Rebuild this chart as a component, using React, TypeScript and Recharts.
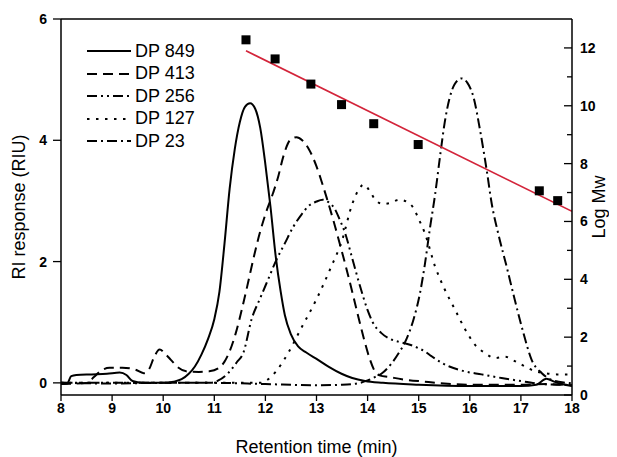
import { ComposedChart, Line, Scatter, XAxis, YAxis, Legend, ReferenceLine } from 'recharts';

// retention time (min) vs RI response (RIU)
const dp849: [number, number][] = [
  [8.0, -0.02], [8.12, -0.01], [8.2, 0.11], [8.3, 0.13], [8.6, 0.14], [8.9, 0.15], [9.15, 0.17],
  [9.28, 0.13], [9.4, 0.03], [9.6, 0.0], [10.0, 0.0], [10.2, 0.02], [10.36, 0.06], [10.5, 0.15],
  [10.62, 0.27], [10.75, 0.47], [10.88, 0.73], [11.0, 1.05], [11.1, 1.5], [11.2, 2.3], [11.3, 3.2],
  [11.4, 3.85], [11.5, 4.3], [11.6, 4.55], [11.7, 4.61], [11.8, 4.52], [11.9, 4.2], [12.0, 3.6],
  [12.1, 2.9], [12.2, 2.1], [12.3, 1.5], [12.38, 1.12], [12.5, 0.8], [12.64, 0.6], [12.8, 0.5],
  [13.03, 0.38], [13.25, 0.26], [13.49, 0.15], [13.7, 0.08], [13.95, 0.03], [14.3, 0.0],
  [15.0, -0.03], [16.0, -0.05], [17.0, -0.05], [17.3, -0.03], [17.5, 0.07], [17.65, 0.02],
  [17.8, -0.02], [18.0, -0.05],
];

const dp413: [number, number][] = [
  [8.0, -0.02], [8.5, 0.0], [8.65, 0.1], [8.75, 0.18], [8.95, 0.25], [9.2, 0.25], [9.45, 0.22],
  [9.62, 0.16], [9.72, 0.22], [9.82, 0.42], [9.93, 0.55], [10.05, 0.47], [10.15, 0.38], [10.3, 0.25],
  [10.45, 0.19], [10.7, 0.18], [10.9, 0.19], [11.08, 0.24], [11.2, 0.35], [11.3, 0.52], [11.42, 0.82],
  [11.55, 1.25], [11.66, 1.65], [11.78, 2.1], [11.89, 2.47], [12.0, 2.78], [12.15, 3.13],
  [12.25, 3.4], [12.35, 3.73], [12.48, 4.0], [12.61, 4.05], [12.72, 4.0], [12.84, 3.87], [13.0, 3.57],
  [13.13, 3.24], [13.2, 3.05], [13.35, 2.62], [13.47, 2.25], [13.58, 1.9], [13.7, 1.5],
  [13.81, 1.12], [13.93, 0.72], [14.04, 0.4], [14.15, 0.18], [14.25, 0.12], [14.4, 0.1],
  [14.67, 0.06], [15.12, 0.02], [15.5, -0.01], [16.0, -0.03], [17.0, -0.03], [17.5, -0.02],
  [18.0, -0.04],
];

const dp256: [number, number][] = [
  [8.0, 0.0], [9.0, 0.0], [10.0, 0.0], [10.9, 0.0], [11.08, 0.04], [11.27, 0.16], [11.44, 0.34],
  [11.57, 0.5], [11.73, 1.05], [11.9, 1.4], [12.06, 1.72], [12.2, 2.0], [12.38, 2.3], [12.55, 2.58],
  [12.71, 2.78], [12.85, 2.92], [13.0, 2.99], [13.12, 3.02], [13.25, 2.97], [13.35, 2.88],
  [13.45, 2.7], [13.56, 2.47], [13.7, 2.05], [13.85, 1.6], [14.0, 1.2], [14.1, 1.0], [14.27, 0.82],
  [14.45, 0.72], [14.6, 0.68], [14.86, 0.62], [15.0, 0.57], [15.12, 0.52], [15.25, 0.44],
  [15.45, 0.33], [15.6, 0.27], [15.9, 0.19], [16.23, 0.14], [16.62, 0.08], [17.08, 0.02],
  [17.4, -0.02], [17.7, -0.03], [18.0, -0.04],
];

const dp127: [number, number][] = [
  [8.0, 0.0], [9.0, 0.0], [10.0, 0.0], [11.0, 0.0], [11.9, 0.0], [12.0, 0.03], [12.2, 0.18],
  [12.45, 0.5], [12.7, 0.9], [13.0, 1.38], [13.28, 1.9], [13.5, 2.35], [13.7, 2.95], [13.82, 3.18],
  [13.93, 3.27], [14.05, 3.15], [14.15, 3.02], [14.3, 2.95], [14.45, 2.97], [14.62, 3.02],
  [14.78, 2.98], [14.9, 2.88], [15.0, 2.7], [15.12, 2.47], [15.32, 1.92], [15.51, 1.54],
  [15.71, 1.21], [15.91, 0.88], [16.1, 0.63], [16.3, 0.49], [16.49, 0.41], [16.69, 0.43],
  [16.88, 0.36], [17.08, 0.27], [17.25, 0.2], [17.47, 0.16], [17.7, 0.14], [18.0, 0.14],
];

const dp23: [number, number][] = [
  [8.0, 0.0], [9.0, -0.01], [10.0, 0.0], [11.0, 0.0], [12.0, -0.02], [13.0, -0.04], [13.5, -0.03],
  [13.85, 0.0], [14.0, 0.04], [14.15, 0.1], [14.27, 0.15], [14.45, 0.3], [14.6, 0.48], [14.76, 0.72],
  [14.9, 1.05], [15.03, 1.5], [15.12, 1.95], [15.22, 2.55], [15.32, 3.1], [15.42, 3.75],
  [15.51, 4.3], [15.6, 4.68], [15.7, 4.92], [15.84, 5.02], [15.95, 4.95], [16.07, 4.72],
  [16.2, 4.17], [16.33, 3.51], [16.43, 2.95], [16.56, 2.45], [16.72, 1.92], [16.88, 1.37],
  [17.05, 0.82], [17.21, 0.38], [17.41, 0.16], [17.55, 0.07], [17.67, 0.03], [17.9, 0.0],
  [18.0, -0.01],
];

// calibration: retention time vs log Mw, and the fitted line
const calibTime = [11.62, 12.19, 12.89, 13.49, 14.12, 14.99, 17.36, 17.72];
const calibLogMw = [12.28, 11.62, 10.75, 10.04, 9.38, 8.66, 7.06, 6.72];
const fitTime = [11.62, 18.0];
const fitLogMw = [11.9, 6.35];

const timeTicks = [8, 9, 10, 11, 12, 13, 14, 15, 16, 17, 18];
const riTicks = [0, 2, 4, 6];
const mwTicks = [0, 1, 2, 3, 4, 5, 6, 7, 8, 9, 10, 11, 12];

const series = [
  { name: 'DP 849', pts: dp849, dash: undefined },
  { name: 'DP 413', pts: dp413, dash: '10 6' },
  { name: 'DP 256', pts: dp256, dash: '10 4 2 4 2 4' },
  { name: 'DP 127', pts: dp127, dash: '2.5 6.5' },
  { name: 'DP 23', pts: dp23, dash: '10 4 2 4' },
];

const calibRows = calibTime.map((t, i) => ({ t, mw: calibLogMw[i] }));
const fitRows = fitTime.map((t, i) => ({ t, mw: fitLogMw[i] }));

const FONT = '"Liberation Sans", Arial, sans-serif';

const RightTick = (props: any) => {
  const { x, y, payload } = props;
  const ax = x - 8;
  const major = payload.value % 2 === 0;
  return (
    <g>
      <line x1={ax - (major ? 8 : 5)} y1={y} x2={ax} y2={y} stroke="#000" strokeWidth={1.3} />
      {major && (
        <text x={x} y={y} dy="0.35em" textAnchor="start" fontSize={14} fontWeight="bold" fill="#000" fontFamily={FONT}>
          {payload.value}
        </text>
      )}
    </g>
  );
};

const renderLegend = () => (
  <div style={{ fontFamily: FONT, fontSize: 18, color: '#000' }}>
    {series.map((s) => (
      <div key={s.name} style={{ display: 'flex', alignItems: 'center', height: 22.5 }}>
        <svg width={44} height={8} style={{ marginRight: 4 }}>
          <line x1={0} y1={4} x2={44} y2={4} stroke="#000" strokeWidth={2} strokeDasharray={s.dash} />
        </svg>
        <span>{s.name}</span>
      </div>
    ))}
  </div>
);

const Square = (props: any) => (
  <rect x={props.cx - 4.5} y={props.cy - 4.5} width={9} height={9} fill="#000" />
);

export default function App() {
  const tickStyle = { fontSize: 14, fontWeight: 'bold' as const, fill: '#000', fontFamily: FONT };
  const titleStyle = { fontSize: 18, fill: '#000', fontFamily: FONT };
  return (
    <ComposedChart width={609} height={449} margin={{ top: 11, right: 5, bottom: 2, left: 13 }}>
      <XAxis
        dataKey="t"
        type="number"
        domain={[8, 18]}
        ticks={timeTicks}
        allowDataOverflow
        height={60}
        tick={tickStyle}
        tickSize={6}
        axisLine={{ stroke: '#000', strokeWidth: 1.5 }}
        tickLine={{ stroke: '#000', strokeWidth: 1.3 }}
        label={{ value: 'Retention time (min)', position: 'insideBottom', offset: 2, ...titleStyle }}
      />
      <YAxis
        yAxisId="left"
        type="number"
        domain={[-0.2, 6]}
        ticks={riTicks}
        allowDataOverflow
        width={40}
        tick={tickStyle}
        tickSize={8}
        tickMargin={6}
        axisLine={{ stroke: '#000', strokeWidth: 1.5 }}
        tickLine={{ stroke: '#000', strokeWidth: 1.3 }}
        label={{ value: 'RI response (RIU)', angle: -90, position: 'insideLeft', offset: -2, ...titleStyle, style: { textAnchor: 'middle' } }}
      />
      <YAxis
        yAxisId="right"
        orientation="right"
        type="number"
        domain={[0, 13]}
        ticks={mwTicks}
        interval={0}
        allowDataOverflow
        width={40}
        tick={<RightTick />}
        tickSize={0}
        tickMargin={8}
        tickLine={false}
        axisLine={{ stroke: '#000', strokeWidth: 1.5 }}
        label={{ value: 'Log Mw', angle: -90, position: 'insideRight', offset: 13, ...titleStyle, style: { textAnchor: 'middle' } }}
      />
      <ReferenceLine yAxisId="left" y={6} stroke="#000" strokeWidth={1.5} />
      {series.map((s) => (
        <Line
          key={s.name}
          yAxisId="left"
          name={s.name}
          data={s.pts.map(([t, ri]) => ({ t, ri }))}
          dataKey="ri"
          type="monotone"
          stroke="#000"
          strokeWidth={2}
          strokeDasharray={s.dash}
          dot={false}
          isAnimationActive={false}
        />
      ))}
      <Line
        yAxisId="right"
        data={fitRows}
        dataKey="mw"
        type="linear"
        stroke="#d3243a"
        strokeWidth={1.6}
        dot={false}
        legendType="none"
        isAnimationActive={false}
      />
      <Scatter
        yAxisId="right"
        data={calibRows}
        dataKey="mw"
        shape={<Square />}
        legendType="none"
        isAnimationActive={false}
      />
      <Legend
        layout="vertical"
        align="center"
        verticalAlign="middle"
        content={renderLegend}
        wrapperStyle={{ left: 79, top: 32, width: 'auto', height: 'auto' }}
      />
    </ComposedChart>
  );
}
